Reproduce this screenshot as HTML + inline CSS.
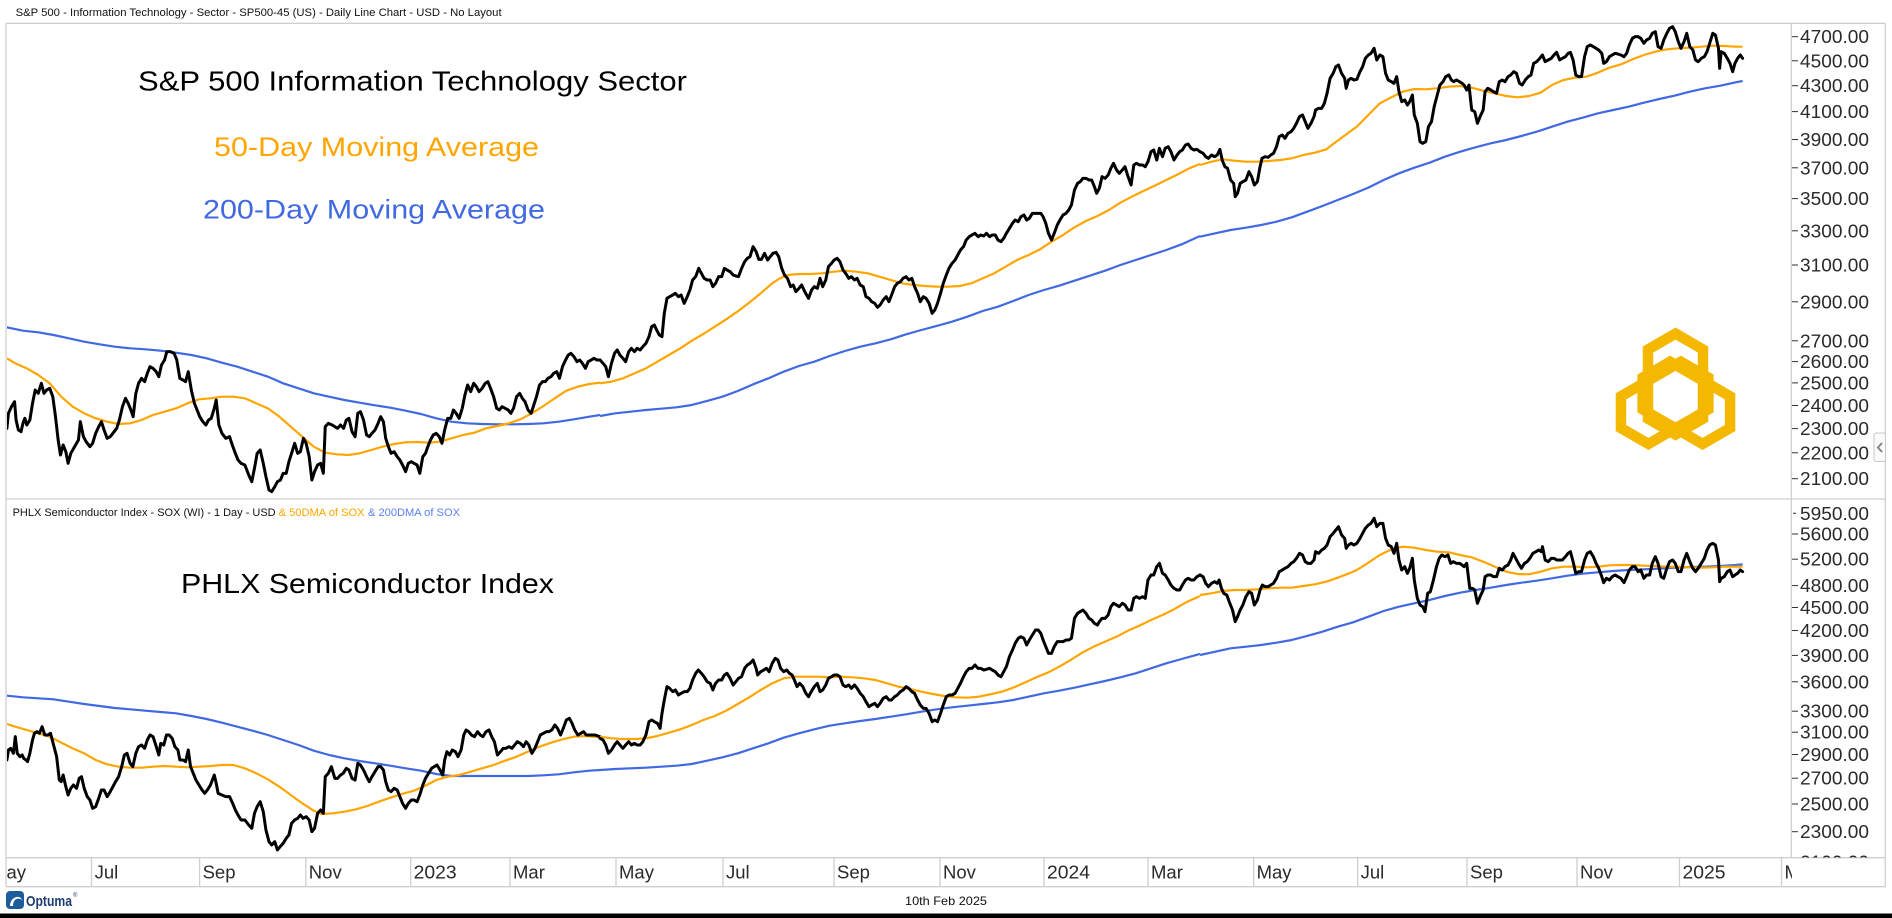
<!DOCTYPE html>
<html><head><meta charset="utf-8"><style>
html,body{margin:0;padding:0;background:#fff;}
svg{display:block;font-family:"Liberation Sans",Arial,sans-serif;}
.k{fill:none;stroke:#000;stroke-width:3;stroke-linejoin:round;stroke-linecap:round;}
.o{fill:none;stroke:#FFA500;stroke-width:2.2;stroke-linejoin:round;}
.b{fill:none;stroke:#4169E1;stroke-width:2.2;stroke-linejoin:round;}
.ax{font-size:18px;fill:#2a2a2a;}
.xl{font-size:18.5px;fill:#2a2a2a;}
</style></head><body>
<svg width="1892" height="918" viewBox="0 0 1892 918" xmlns="http://www.w3.org/2000/svg">
<defs>
<clipPath id="cTop"><rect x="7" y="24" width="1784" height="474.5"/></clipPath>
<clipPath id="cBot"><rect x="7" y="499.5" width="1784" height="358"/></clipPath>
<clipPath id="aTop"><rect x="1792" y="24" width="92" height="474.5"/></clipPath>
<clipPath id="aBot"><rect x="1792" y="499.5" width="92" height="358"/></clipPath>
<clipPath id="xAx"><rect x="7" y="858" width="1785" height="28"/></clipPath>
</defs>
<rect width="1892" height="918" fill="#fff"/>

<!-- header -->
<text x="15.6" y="16" font-size="11" fill="#111" textLength="486" lengthAdjust="spacingAndGlyphs">S&amp;P 500 - Information Technology - Sector - SP500-45 (US) - Daily Line Chart - USD - No Layout</text>

<!-- frames -->
<g stroke="#cfcfcf" stroke-width="1.3" fill="none">
<line x1="6" y1="23.3" x2="1885.5" y2="23.3"/>
<line x1="6" y1="499" x2="1885.5" y2="499"/>
<line x1="6" y1="857.7" x2="1885.5" y2="857.7"/>
<line x1="6" y1="886.7" x2="1885.5" y2="886.7"/>
<line x1="6" y1="23.3" x2="6" y2="886.7"/>
<line x1="1885.3" y1="23.3" x2="1885.3" y2="886.7"/>
<line x1="1791.3" y1="23.3" x2="1791.3" y2="857.7"/>
</g>

<!-- big labels -->
<text x="138" y="90.7" font-size="28" fill="#000" textLength="549" lengthAdjust="spacingAndGlyphs">S&amp;P 500 Information Technology Sector</text>
<text x="214" y="156" font-size="27" fill="#FFA500" textLength="325" lengthAdjust="spacingAndGlyphs">50-Day Moving Average</text>
<text x="203" y="218.3" font-size="27" fill="#4169E1" textLength="342" lengthAdjust="spacingAndGlyphs">200-Day Moving Average</text>

<text x="12.6" y="516" font-size="11" fill="#111" textLength="263" lengthAdjust="spacingAndGlyphs">PHLX Semiconductor Index - SOX (WI) - 1 Day - USD</text>
<text x="278.6" y="516" font-size="11" fill="#FFA500" textLength="86" lengthAdjust="spacingAndGlyphs">&amp; 50DMA of SOX</text>
<text x="368" y="516" font-size="11" fill="#5a7ff0" textLength="92" lengthAdjust="spacingAndGlyphs">&amp; 200DMA of SOX</text>
<text x="181" y="593" font-size="28" fill="#000" textLength="373" lengthAdjust="spacingAndGlyphs">PHLX Semiconductor Index</text>

<!-- gold logo -->
<g fill="none" stroke="#F4B800" stroke-width="10.5" stroke-linejoin="miter">
<path d="M1675.5,333.6 L1703,349.5 L1703,418.7 L1675.5,434.6 L1648,418.7 L1648,349.5 Z"/>
<path d="M1675.5,333.6 L1703,349.5 L1703,418.7 L1675.5,434.6 L1648,418.7 L1648,349.5 Z" transform="rotate(120 1675.5 396.6)"/>
<path d="M1675.5,333.6 L1703,349.5 L1703,418.7 L1675.5,434.6 L1648,418.7 L1648,349.5 Z" transform="rotate(-120 1675.5 396.6)"/>
</g>

<!-- TOP PANEL SERIES -->
<g clip-path="url(#cTop)">
<g transform="translate(0,20) scale(0.38265,0.33333)">
<polyline class="b" vector-effect="non-scaling-stroke" points="18,922 60,932 100,937 140,945 180,955 220,965 260,973 300,980 340,985 380,988 420,992 460,998 500,1005 540,1015 580,1028 620,1040 660,1055 700,1070 740,1090 780,1105 820,1120 860,1130 900,1140 940,1148 980,1156 1020,1163 1060,1172 1100,1182 1140,1195 1180,1205 1220,1210 1260,1212 1300,1213 1340,1213 1380,1212 1420,1210 1460,1205 1500,1198 1540,1190 1568,1185"/>
<polyline class="o" vector-effect="non-scaling-stroke" points="18,1015 40,1030 70,1045 100,1065 130,1090 160,1130 190,1160 220,1180 250,1195 280,1205 310,1212 340,1210 370,1200 400,1185 430,1175 460,1165 490,1150 520,1138 550,1135 580,1130 610,1130 640,1135 670,1150 700,1165 730,1190 760,1220 790,1250 820,1280 850,1298 880,1303 910,1305 940,1300 970,1290 1000,1280 1030,1272 1060,1267 1090,1266 1120,1268 1150,1265 1180,1255 1210,1245 1240,1238 1270,1225 1300,1218 1330,1210 1360,1198 1390,1180 1420,1158 1450,1135 1480,1112 1510,1100 1540,1092 1568,1088"/>
<polyline class="k" vector-effect="non-scaling-stroke" points="18,1225 22,1180 30,1160 38,1145 42,1200 48,1230 55,1235 60,1210 65,1195 70,1215 78,1200 85,1150 92,1110 100,1120 108,1090 115,1120 122,1110 130,1105 138,1130 145,1190 152,1260 158,1305 165,1275 172,1295 178,1330 185,1300 195,1280 205,1260 210,1205 218,1250 225,1265 235,1280 242,1270 250,1240 258,1220 265,1205 272,1230 280,1255 288,1250 295,1240 305,1225 312,1200 320,1160 328,1135 335,1150 342,1170 348,1190 355,1120 362,1090 370,1075 378,1085 385,1060 392,1040 400,1045 408,1055 415,1070 422,1035 430,1020 436,995 445,995 455,1000 462,1020 470,1075 478,1080 485,1085 492,1055 500,1110 508,1150 515,1170 522,1190 530,1205 538,1215 545,1200 552,1195 560,1165 565,1140 572,1215 580,1240 590,1255 600,1250 607,1275 615,1300 622,1320 630,1330 640,1335 650,1365 658,1385 665,1345 672,1300 680,1290 688,1330 695,1370 703,1410 710,1415 718,1400 725,1385 733,1380 740,1360 748,1360 755,1325 762,1300 770,1270 778,1300 785,1295 793,1255 800,1270 808,1310 815,1380 822,1355 830,1335 838,1330 845,1360 850,1220 858,1210 868,1215 875,1220 882,1225 890,1215 898,1225 905,1200 912,1195 920,1235 928,1250 935,1180 942,1175 950,1200 958,1245 965,1250 972,1240 980,1230 988,1210 995,1190 1002,1205 1008,1255 1015,1280 1022,1300 1030,1295 1038,1310 1045,1320 1052,1335 1060,1355 1067,1330 1075,1325 1082,1330 1090,1335 1097,1360 1105,1310 1112,1300 1118,1280 1125,1260 1132,1245 1140,1240 1148,1250 1155,1270 1162,1230 1170,1195 1178,1195 1185,1170 1192,1180 1200,1195 1208,1165 1215,1125 1222,1095 1230,1115 1238,1090 1245,1100 1252,1115 1260,1105 1268,1090 1275,1085 1282,1105 1290,1130 1298,1165 1305,1170 1312,1160 1320,1165 1328,1170 1335,1180 1342,1165 1350,1130 1358,1120 1365,1135 1372,1145 1380,1170 1388,1180 1395,1155 1402,1130 1410,1095 1418,1085 1425,1085 1432,1075 1440,1070 1447,1060 1455,1055 1462,1075 1470,1040 1478,1020 1485,1005 1492,1000 1500,1010 1508,1025 1515,1020 1522,1030 1530,1045 1537,1025 1545,1020 1552,1015 1560,1020 1568,1020"/>
</g>
<g transform="translate(600,20) scale(0.38265,0.33333)">
<polyline class="b" vector-effect="non-scaling-stroke" points="0,1188 40,1180 80,1175 120,1170 160,1166 200,1162 240,1155 280,1143 320,1130 360,1113 400,1093 440,1075 480,1055 520,1038 560,1025 600,1008 640,993 680,980 720,970 760,958 800,943 840,930 880,918 920,905 960,890 1000,873 1040,860 1080,843 1120,825 1160,810 1200,797 1240,782 1280,767 1320,752 1360,735 1400,720 1440,705 1480,690 1520,673 1568,648"/>
<polyline class="o" vector-effect="non-scaling-stroke" points="0,1090 30,1085 60,1075 90,1060 120,1045 150,1025 180,1005 210,985 240,962 270,942 300,920 330,898 360,874 390,848 420,820 450,790 470,775 490,765 520,762 550,762 580,760 610,755 640,752 670,755 700,760 730,770 760,780 790,790 820,795 850,798 880,800 910,800 940,798 970,790 1000,775 1030,760 1060,740 1090,720 1120,705 1150,688 1180,665 1210,645 1240,622 1270,603 1300,588 1330,570 1360,548 1390,530 1420,513 1450,497 1480,480 1510,463 1540,445 1568,432"/>
<polyline class="k" vector-effect="non-scaling-stroke" points="0,1020 8,1030 15,1040 22,1070 30,1030 38,1000 45,990 52,1005 60,1015 67,1025 75,995 82,985 90,995 97,985 105,990 112,980 120,970 128,950 135,920 142,915 148,930 155,945 162,950 168,880 175,835 182,830 190,825 197,820 205,830 212,825 220,850 228,830 235,810 242,780 250,770 258,745 265,760 272,775 280,780 288,780 295,800 302,790 310,770 318,770 325,745 332,750 340,755 348,765 355,768 362,770 370,745 378,725 385,715 392,710 400,680 408,695 415,718 422,718 430,700 438,720 445,710 452,700 460,697 467,710 475,745 482,765 490,775 498,800 505,795 512,815 520,805 527,795 535,815 545,835 553,810 560,800 568,805 575,775 582,800 590,780 597,740 605,730 612,720 620,715 627,725 635,750 642,760 650,775 657,770 665,780 672,775 680,795 688,800 695,830 703,835 710,845 718,850 725,862 732,855 740,840 748,830 755,845 762,825 770,800 777,790 785,785 792,775 800,770 807,780 815,775 822,800 830,820 837,845 845,830 852,835 860,850 868,880 875,870 882,850 890,820 897,790 905,765 912,745 920,730 928,720 935,705 942,690 950,680 957,660 965,650 972,645 980,640 988,650 995,645 1003,648 1010,640 1018,650 1025,645 1033,645 1040,660 1048,665 1055,655 1062,640 1070,625 1078,610 1085,600 1093,605 1100,590 1108,585 1115,600 1122,595 1130,580 1138,580 1145,580 1152,580 1158,590 1165,610 1172,640 1180,660 1187,640 1195,615 1202,600 1210,585 1218,580 1225,570 1232,555 1240,510 1248,490 1255,485 1262,475 1270,475 1278,480 1285,480 1292,500 1298,520 1305,505 1312,470 1320,475 1328,465 1335,445 1342,430 1350,450 1357,460 1365,450 1372,440 1380,470 1388,495 1395,435 1402,430 1410,435 1418,435 1425,440 1432,425 1440,395 1447,390 1455,420 1462,385 1470,410 1477,385 1485,380 1492,395 1500,420 1508,405 1515,395 1522,390 1530,375 1537,372 1545,385 1552,390 1560,388 1568,395"/>
</g>
<g transform="translate(1200,20) scale(0.38265,0.33333)">
<polyline class="b" vector-effect="non-scaling-stroke" points="0,650 40,640 80,630 120,623 160,615 200,605 240,592 280,575 320,558 360,540 400,522 440,503 480,480 520,460 560,443 600,428 640,410 680,395 720,382 760,370 800,360 840,348 880,335 920,320 960,305 1000,293 1040,280 1080,270 1120,260 1160,248 1200,237 1240,227 1280,215 1320,205 1360,197 1400,187 1418,183"/>
<polyline class="o" vector-effect="non-scaling-stroke" points="0,435 30,425 60,418 90,422 120,425 150,425 180,423 210,420 240,415 270,405 300,398 330,388 350,370 380,345 410,320 440,285 470,250 500,232 530,215 560,207 590,208 620,205 650,200 680,198 710,203 740,212 770,220 800,228 830,232 860,228 890,218 920,195 950,180 980,173 1010,170 1040,158 1070,143 1100,133 1130,118 1160,105 1190,95 1220,88 1250,85 1280,83 1310,80 1340,77 1370,78 1400,80 1418,80"/>
<polyline class="k" vector-effect="non-scaling-stroke" points="0,395 8,400 15,410 22,415 30,405 38,410 45,405 52,388 58,420 65,440 72,445 80,480 88,490 92,530 98,520 105,490 112,485 120,480 128,455 135,470 142,495 150,485 157,440 162,415 170,410 178,412 185,405 192,400 200,380 207,350 215,345 222,355 230,340 238,335 245,325 252,310 260,290 268,285 275,305 282,325 290,310 298,290 302,270 310,265 318,265 325,250 332,220 340,175 348,160 355,140 362,135 370,160 378,175 382,205 388,180 395,175 402,180 410,178 418,155 425,140 432,115 440,105 447,100 455,85 462,120 470,105 478,110 485,160 492,180 500,185 507,190 514,170 520,215 527,245 535,240 542,255 548,245 555,225 560,285 568,310 575,365 582,370 590,365 597,320 605,305 612,260 620,225 627,195 635,185 642,170 650,165 657,180 663,185 670,180 678,185 685,190 690,195 697,210 703,195 710,270 718,275 725,310 732,290 740,270 745,215 752,205 760,210 767,215 775,220 782,185 790,180 797,185 805,170 812,165 820,155 827,160 835,190 842,195 850,180 858,170 865,165 872,130 880,125 888,115 895,105 902,125 910,120 918,115 925,105 932,97 940,120 947,115 955,110 962,100 968,97 975,120 982,165 990,170 997,170 1005,110 1012,80 1020,75 1028,80 1035,85 1042,90 1050,100 1055,130 1062,125 1070,110 1077,105 1085,100 1092,102 1100,105 1108,110 1115,100 1122,75 1130,55 1137,50 1145,50 1152,55 1160,70 1167,60 1175,55 1182,40 1190,35 1197,80 1205,85 1212,60 1220,40 1227,25 1235,20 1242,35 1250,65 1257,85 1265,65 1272,40 1280,80 1288,90 1295,120 1302,125 1310,115 1318,110 1325,95 1332,70 1340,40 1347,45 1355,85 1358,145 1362,95 1370,100 1378,115 1385,130 1392,155 1398,130 1405,115 1412,105 1418,115"/>
</g>
</g>

<!-- BOTTOM PANEL SERIES -->
<g clip-path="url(#cBot)">
<g transform="translate(0,420) scale(0.38265,0.33333)">
<polyline class="b" vector-effect="non-scaling-stroke" points="18,827 60,832 100,835 140,838 180,845 220,852 260,858 300,864 340,868 380,872 420,876 460,880 500,888 540,897 580,908 620,920 660,932 700,945 740,960 780,975 820,992 860,1005 900,1015 940,1023 980,1030 1020,1037 1060,1045 1100,1052 1140,1062 1180,1068 1220,1068 1260,1068 1300,1068 1340,1068 1380,1068 1420,1066 1460,1063 1500,1057 1540,1052 1568,1050"/>
<polyline class="o" vector-effect="non-scaling-stroke" points="18,912 40,920 70,930 100,940 130,950 160,968 190,985 220,1000 250,1020 280,1033 310,1040 340,1043 370,1043 400,1040 430,1038 460,1040 490,1042 520,1040 550,1038 580,1035 610,1035 640,1045 670,1060 700,1078 730,1100 760,1125 790,1150 820,1172 840,1182 870,1180 900,1175 930,1168 960,1158 990,1145 1020,1133 1050,1122 1080,1113 1110,1098 1140,1080 1170,1070 1200,1065 1230,1055 1260,1045 1290,1035 1320,1022 1350,1010 1380,995 1410,980 1440,968 1470,958 1500,950 1530,948 1568,952"/>
<polyline class="k" vector-effect="non-scaling-stroke" points="18,1020 22,990 28,985 35,1000 40,950 45,1000 52,1010 58,1005 62,1015 68,1020 72,1025 78,1000 85,960 90,940 97,935 103,940 110,920 117,945 125,945 132,940 140,975 148,1010 155,1080 160,1085 165,1065 172,1100 178,1125 185,1105 192,1095 200,1105 207,1075 213,1070 220,1105 228,1130 235,1140 242,1165 250,1160 258,1135 265,1110 272,1110 280,1130 288,1115 295,1100 302,1085 310,1070 318,1040 325,1005 332,1000 340,1030 347,1040 355,1000 362,980 370,975 378,985 385,960 392,945 400,950 407,975 415,1005 420,970 428,975 435,945 442,945 450,955 457,980 465,990 470,1020 478,1020 485,1025 492,990 498,1040 505,1060 512,1080 520,1095 528,1110 535,1120 542,1110 550,1095 555,1080 560,1065 565,1090 570,1120 580,1125 590,1130 600,1130 608,1150 615,1170 622,1185 630,1200 640,1200 650,1215 658,1225 665,1180 672,1160 680,1145 688,1175 695,1230 703,1265 710,1275 718,1265 725,1290 732,1280 740,1270 748,1255 755,1245 762,1210 770,1200 778,1195 785,1185 792,1195 800,1190 808,1200 815,1235 822,1225 830,1180 838,1170 845,1180 850,1070 858,1060 866,1040 875,1075 882,1075 890,1065 897,1060 905,1045 912,1050 920,1075 928,1080 935,1030 942,1035 950,1050 958,1070 965,1085 972,1070 980,1055 988,1040 995,1040 1002,1050 1008,1085 1015,1110 1022,1115 1030,1105 1038,1110 1045,1130 1052,1150 1060,1165 1067,1150 1075,1140 1082,1140 1090,1145 1097,1125 1105,1095 1112,1075 1120,1060 1128,1045 1135,1040 1142,1035 1150,1050 1157,1065 1162,1020 1168,995 1175,1005 1182,990 1190,995 1197,1010 1205,990 1212,945 1218,930 1225,935 1232,945 1240,950 1248,935 1255,945 1262,950 1270,935 1278,930 1285,950 1292,965 1300,1005 1308,995 1315,985 1322,985 1330,980 1338,985 1345,975 1352,965 1360,970 1368,980 1375,965 1382,975 1390,1000 1398,985 1405,965 1412,945 1420,940 1428,935 1435,935 1442,930 1450,915 1457,925 1465,945 1472,925 1480,900 1488,895 1495,910 1502,930 1510,945 1518,940 1525,935 1532,945 1540,945 1548,945 1555,945 1568,950"/>
</g>
<g transform="translate(600,420) scale(0.38265,0.33333)">
<polyline class="b" vector-effect="non-scaling-stroke" points="0,1050 40,1047 80,1045 120,1043 160,1040 200,1037 240,1032 280,1022 320,1012 360,1000 400,985 440,970 480,953 520,940 560,928 600,917 640,910 680,903 720,897 760,890 800,883 840,875 880,868 920,862 960,857 1000,852 1040,847 1080,840 1120,830 1160,820 1200,812 1240,803 1280,793 1320,783 1360,772 1400,760 1440,745 1480,730 1520,717 1568,702"/>
<polyline class="o" vector-effect="non-scaling-stroke" points="0,950 30,955 60,957 90,957 120,955 150,948 180,938 210,928 240,915 270,900 300,888 330,872 360,852 390,832 420,810 450,790 480,775 510,770 540,770 570,770 600,772 630,770 660,772 690,775 720,780 750,790 780,800 810,807 840,815 870,822 900,828 930,832 960,833 990,830 1020,823 1050,815 1080,803 1110,788 1140,772 1170,758 1200,740 1230,720 1260,698 1290,680 1320,665 1350,650 1380,632 1410,617 1440,600 1470,585 1500,568 1530,548 1568,528"/>
<polyline class="k" vector-effect="non-scaling-stroke" points="0,955 8,960 15,975 22,1000 30,990 38,975 45,965 52,975 60,985 67,975 75,965 82,975 90,970 97,975 105,975 112,965 120,945 128,905 135,900 142,905 150,910 157,925 162,880 168,840 175,800 182,805 190,815 197,810 205,825 212,820 220,815 228,815 235,805 242,780 250,760 257,750 265,760 272,770 280,785 288,790 295,810 302,790 310,780 318,780 325,765 332,760 340,775 348,795 355,785 362,775 370,770 378,745 385,735 392,730 400,720 408,745 412,765 420,755 428,750 435,745 442,755 450,730 458,715 465,720 472,745 480,755 488,750 495,760 502,765 508,780 515,800 522,790 530,800 538,820 545,830 552,815 560,800 568,790 575,815 582,810 590,795 597,775 605,770 612,765 620,765 627,770 635,795 642,800 650,795 657,805 665,795 672,805 680,820 688,830 695,845 703,860 710,855 718,850 725,860 732,850 740,835 748,830 755,840 762,840 770,830 777,825 785,815 792,810 800,800 807,805 815,815 822,820 830,840 837,855 845,865 852,865 860,880 868,905 875,900 882,905 890,880 897,855 905,830 912,825 920,825 928,820 935,805 942,790 950,770 957,755 965,745 972,745 980,735 988,745 995,745 1003,750 1010,748 1018,745 1025,750 1033,755 1040,765 1048,770 1055,755 1062,740 1070,710 1078,690 1085,670 1093,655 1100,650 1108,655 1115,675 1122,660 1130,645 1138,630 1145,630 1152,640 1158,660 1165,680 1172,700 1180,700 1187,680 1195,665 1202,665 1210,665 1218,660 1225,660 1232,655 1240,595 1248,580 1255,575 1262,570 1270,580 1278,595 1285,600 1292,610 1300,615 1305,605 1312,595 1320,595 1328,585 1335,560 1342,550 1350,555 1357,560 1365,550 1372,555 1380,570 1388,570 1395,535 1402,530 1410,535 1418,530 1425,535 1432,480 1440,465 1447,465 1455,440 1462,430 1470,460 1477,465 1485,480 1492,495 1500,505 1508,510 1515,510 1522,495 1530,480 1537,475 1545,480 1552,480 1560,470 1568,465"/>
</g>
<g transform="translate(1200,420) scale(0.38265,0.33333)">
<polyline class="b" vector-effect="non-scaling-stroke" points="0,705 40,695 80,685 120,680 160,675 200,668 240,660 280,648 320,635 360,620 400,607 440,590 480,573 520,560 560,550 600,540 640,528 680,518 720,510 760,503 800,495 840,488 880,482 920,475 960,467 1000,461 1040,457 1080,453 1120,450 1160,448 1200,446 1240,443 1280,441 1320,440 1360,438 1400,435 1418,433"/>
<polyline class="o" vector-effect="non-scaling-stroke" points="0,525 30,520 60,513 90,510 120,510 150,508 180,505 210,503 240,503 270,498 300,493 330,485 360,473 390,460 410,450 440,428 470,405 500,388 530,380 560,383 590,390 620,395 650,397 680,405 710,412 740,425 770,440 800,455 830,462 860,463 890,455 920,445 950,440 980,440 1010,442 1040,440 1070,436 1100,435 1130,435 1160,437 1190,438 1220,440 1250,440 1280,442 1310,443 1340,442 1370,440 1400,440 1418,440"/>
<polyline class="k" vector-effect="non-scaling-stroke" points="0,465 8,470 15,490 22,500 30,490 38,485 45,490 50,480 56,505 62,520 70,525 78,550 85,570 92,605 98,590 105,570 112,555 120,530 128,515 135,520 142,555 150,540 157,510 163,495 170,500 178,500 185,495 192,490 200,475 207,455 215,450 222,445 230,440 238,430 245,425 252,415 260,400 268,405 275,425 282,430 290,430 298,420 302,395 310,400 318,390 325,385 332,375 340,350 348,340 355,330 362,320 370,345 378,355 382,385 388,375 395,370 402,375 410,370 418,355 425,340 432,325 440,315 447,310 455,295 462,320 470,310 478,310 485,355 492,375 500,380 507,400 514,370 520,420 527,450 535,440 542,460 548,445 555,415 560,480 568,535 575,555 582,560 588,575 595,520 602,515 610,480 618,440 625,415 632,405 640,410 648,405 655,430 662,425 670,430 678,430 685,435 690,440 697,430 705,505 712,505 718,510 725,550 732,530 740,510 745,470 752,465 760,465 767,470 775,470 782,445 790,450 797,440 805,435 812,420 818,400 825,415 832,430 840,445 848,430 855,425 862,415 870,400 878,395 885,390 892,395 895,380 902,420 910,425 918,415 925,415 932,420 940,420 947,420 955,410 962,400 968,395 975,425 982,460 990,455 997,455 1005,420 1012,400 1020,395 1028,410 1035,430 1042,445 1050,470 1055,488 1062,475 1070,480 1077,470 1085,465 1092,470 1100,475 1108,488 1115,470 1122,450 1130,440 1137,440 1145,455 1152,450 1160,475 1167,465 1175,465 1182,430 1190,410 1197,430 1205,470 1212,475 1220,445 1227,425 1235,420 1242,430 1250,455 1257,455 1265,420 1272,400 1280,425 1288,445 1295,455 1302,445 1310,430 1318,415 1325,390 1332,375 1340,370 1347,375 1355,420 1358,485 1362,475 1370,470 1378,455 1385,450 1392,470 1398,465 1405,460 1412,450 1418,455"/>
</g>
</g>

<!-- right axis top -->
<g clip-path="url(#aTop)">
<g stroke="#333" stroke-width="1">
<line x1="1791" y1="36.7" x2="1798" y2="36.7"/><line x1="1791" y1="60.8" x2="1798" y2="60.8"/><line x1="1791" y1="85.7" x2="1798" y2="85.7"/><line x1="1791" y1="111.6" x2="1798" y2="111.6"/><line x1="1791" y1="139.5" x2="1798" y2="139.5"/><line x1="1791" y1="167.8" x2="1798" y2="167.8"/><line x1="1791" y1="198.6" x2="1798" y2="198.6"/><line x1="1791" y1="230.8" x2="1798" y2="230.8"/><line x1="1791" y1="265" x2="1798" y2="265"/><line x1="1791" y1="301.8" x2="1798" y2="301.8"/><line x1="1791" y1="340.8" x2="1798" y2="340.8"/><line x1="1791" y1="361.6" x2="1798" y2="361.6"/><line x1="1791" y1="382.9" x2="1798" y2="382.9"/><line x1="1791" y1="405.5" x2="1798" y2="405.5"/><line x1="1791" y1="428.6" x2="1798" y2="428.6"/><line x1="1791" y1="452.8" x2="1798" y2="452.8"/><line x1="1791" y1="478.7" x2="1798" y2="478.7"/>
</g>
<g class="ax">
<text x="1800" y="43.2" textLength="69" lengthAdjust="spacingAndGlyphs">4700.00</text>
<text x="1800" y="67.3" textLength="69" lengthAdjust="spacingAndGlyphs">4500.00</text>
<text x="1800" y="92.2" textLength="69" lengthAdjust="spacingAndGlyphs">4300.00</text>
<text x="1800" y="118.1" textLength="69" lengthAdjust="spacingAndGlyphs">4100.00</text>
<text x="1800" y="146" textLength="69" lengthAdjust="spacingAndGlyphs">3900.00</text>
<text x="1800" y="174.3" textLength="69" lengthAdjust="spacingAndGlyphs">3700.00</text>
<text x="1800" y="205.1" textLength="69" lengthAdjust="spacingAndGlyphs">3500.00</text>
<text x="1800" y="237.3" textLength="69" lengthAdjust="spacingAndGlyphs">3300.00</text>
<text x="1800" y="271.5" textLength="69" lengthAdjust="spacingAndGlyphs">3100.00</text>
<text x="1800" y="308.3" textLength="69" lengthAdjust="spacingAndGlyphs">2900.00</text>
<text x="1800" y="347.3" textLength="69" lengthAdjust="spacingAndGlyphs">2700.00</text>
<text x="1800" y="368.1" textLength="69" lengthAdjust="spacingAndGlyphs">2600.00</text>
<text x="1800" y="389.4" textLength="69" lengthAdjust="spacingAndGlyphs">2500.00</text>
<text x="1800" y="412" textLength="69" lengthAdjust="spacingAndGlyphs">2400.00</text>
<text x="1800" y="435.1" textLength="69" lengthAdjust="spacingAndGlyphs">2300.00</text>
<text x="1800" y="459.3" textLength="69" lengthAdjust="spacingAndGlyphs">2200.00</text>
<text x="1800" y="485.2" textLength="69" lengthAdjust="spacingAndGlyphs">2100.00</text>
<text x="1800" y="512" textLength="69" lengthAdjust="spacingAndGlyphs">2000.00</text>
</g>
</g>

<!-- right axis bottom -->
<g clip-path="url(#aBot)">
<g stroke="#333" stroke-width="1">
<line x1="1793" y1="513.3" x2="1796" y2="513.3"/><line x1="1791" y1="534" x2="1798" y2="534"/><line x1="1791" y1="559.2" x2="1798" y2="559.2"/><line x1="1791" y1="585.6" x2="1798" y2="585.6"/><line x1="1791" y1="607.5" x2="1798" y2="607.5"/><line x1="1791" y1="630.5" x2="1798" y2="630.5"/><line x1="1791" y1="655.4" x2="1798" y2="655.4"/><line x1="1791" y1="681.8" x2="1798" y2="681.8"/><line x1="1791" y1="711.2" x2="1798" y2="711.2"/><line x1="1791" y1="732.2" x2="1798" y2="732.2"/><line x1="1791" y1="754.5" x2="1798" y2="754.5"/><line x1="1791" y1="778.2" x2="1798" y2="778.2"/><line x1="1791" y1="804" x2="1798" y2="804"/><line x1="1791" y1="831.7" x2="1798" y2="831.7"/>
</g>
<g class="ax">
<text x="1800" y="519.8" textLength="69" lengthAdjust="spacingAndGlyphs">5950.00</text>
<text x="1800" y="540.5" textLength="69" lengthAdjust="spacingAndGlyphs">5600.00</text>
<text x="1800" y="565.7" textLength="69" lengthAdjust="spacingAndGlyphs">5200.00</text>
<text x="1800" y="592.1" textLength="69" lengthAdjust="spacingAndGlyphs">4800.00</text>
<text x="1800" y="614" textLength="69" lengthAdjust="spacingAndGlyphs">4500.00</text>
<text x="1800" y="637" textLength="69" lengthAdjust="spacingAndGlyphs">4200.00</text>
<text x="1800" y="661.9" textLength="69" lengthAdjust="spacingAndGlyphs">3900.00</text>
<text x="1800" y="688.3" textLength="69" lengthAdjust="spacingAndGlyphs">3600.00</text>
<text x="1800" y="717.7" textLength="69" lengthAdjust="spacingAndGlyphs">3300.00</text>
<text x="1800" y="738.7" textLength="69" lengthAdjust="spacingAndGlyphs">3100.00</text>
<text x="1800" y="761" textLength="69" lengthAdjust="spacingAndGlyphs">2900.00</text>
<text x="1800" y="784.7" textLength="69" lengthAdjust="spacingAndGlyphs">2700.00</text>
<text x="1800" y="810.5" textLength="69" lengthAdjust="spacingAndGlyphs">2500.00</text>
<text x="1800" y="838.2" textLength="69" lengthAdjust="spacingAndGlyphs">2300.00</text>
<text x="1800" y="868.7" textLength="69" lengthAdjust="spacingAndGlyphs">2100.00</text>
</g>
</g>

<!-- collapse button -->
<rect x="1874" y="433" width="11.5" height="28.5" rx="2" fill="#fafafa" stroke="#c8c8c8" stroke-width="1"/>
<path d="M1882,443 L1878,447.5 L1882,452" fill="none" stroke="#888" stroke-width="2"/>

<!-- x axis -->
<g stroke="#cfcfcf" stroke-width="1.3">
<line x1="91.5" y1="858" x2="91.5" y2="886.7"/><line x1="199.6" y1="858" x2="199.6" y2="886.7"/><line x1="305.8" y1="858" x2="305.8" y2="886.7"/><line x1="410.7" y1="858" x2="410.7" y2="886.7"/><line x1="510" y1="858" x2="510" y2="886.7"/><line x1="616" y1="858" x2="616" y2="886.7"/><line x1="723" y1="858" x2="723" y2="886.7"/><line x1="834" y1="858" x2="834" y2="886.7"/><line x1="940" y1="858" x2="940" y2="886.7"/><line x1="1044" y1="858" x2="1044" y2="886.7"/><line x1="1148" y1="858" x2="1148" y2="886.7"/><line x1="1253.6" y1="858" x2="1253.6" y2="886.7"/><line x1="1357.6" y1="858" x2="1357.6" y2="886.7"/><line x1="1467" y1="858" x2="1467" y2="886.7"/><line x1="1577" y1="858" x2="1577" y2="886.7"/><line x1="1679.5" y1="858" x2="1679.5" y2="886.7"/><line x1="1781.5" y1="858" x2="1781.5" y2="886.7"/>
</g>
<g class="xl" clip-path="url(#xAx)">
<text x="6.5" y="878.5">ay</text>
<text x="94.6" y="878.5">Jul</text>
<text x="202.6" y="878.5">Sep</text>
<text x="308.8" y="878.5">Nov</text>
<text x="413.7" y="878.5" textLength="43" lengthAdjust="spacingAndGlyphs">2023</text>
<text x="513" y="878.5">Mar</text>
<text x="619" y="878.5">May</text>
<text x="726" y="878.5">Jul</text>
<text x="837" y="878.5">Sep</text>
<text x="943" y="878.5">Nov</text>
<text x="1047" y="878.5" textLength="43" lengthAdjust="spacingAndGlyphs">2024</text>
<text x="1151" y="878.5">Mar</text>
<text x="1256.6" y="878.5">May</text>
<text x="1360.6" y="878.5">Jul</text>
<text x="1470" y="878.5">Sep</text>
<text x="1580" y="878.5">Nov</text>
<text x="1682.5" y="878.5" textLength="43" lengthAdjust="spacingAndGlyphs">2025</text>
<text x="1784.5" y="878.5">Mar</text>
</g>

<!-- footer -->
<rect x="6" y="891" width="18" height="18" rx="4" fill="#1d5d9b"/>
<path d="M10,906 C10,897 20,894 22,900 C18,897 13,899 13,906 Z" fill="#fff"/>
<text x="26" y="906" font-size="15" font-weight="bold" fill="#1d3f6e" textLength="46" lengthAdjust="spacingAndGlyphs">Optuma</text>
<text x="73" y="897" font-size="6" fill="#1d3f6e">®</text>
<text x="905" y="905" font-size="12" fill="#111" textLength="82" lengthAdjust="spacingAndGlyphs">10th Feb 2025</text>

<rect x="0" y="913.5" width="1892" height="4.5" fill="#000"/>
</svg>
</body></html>
